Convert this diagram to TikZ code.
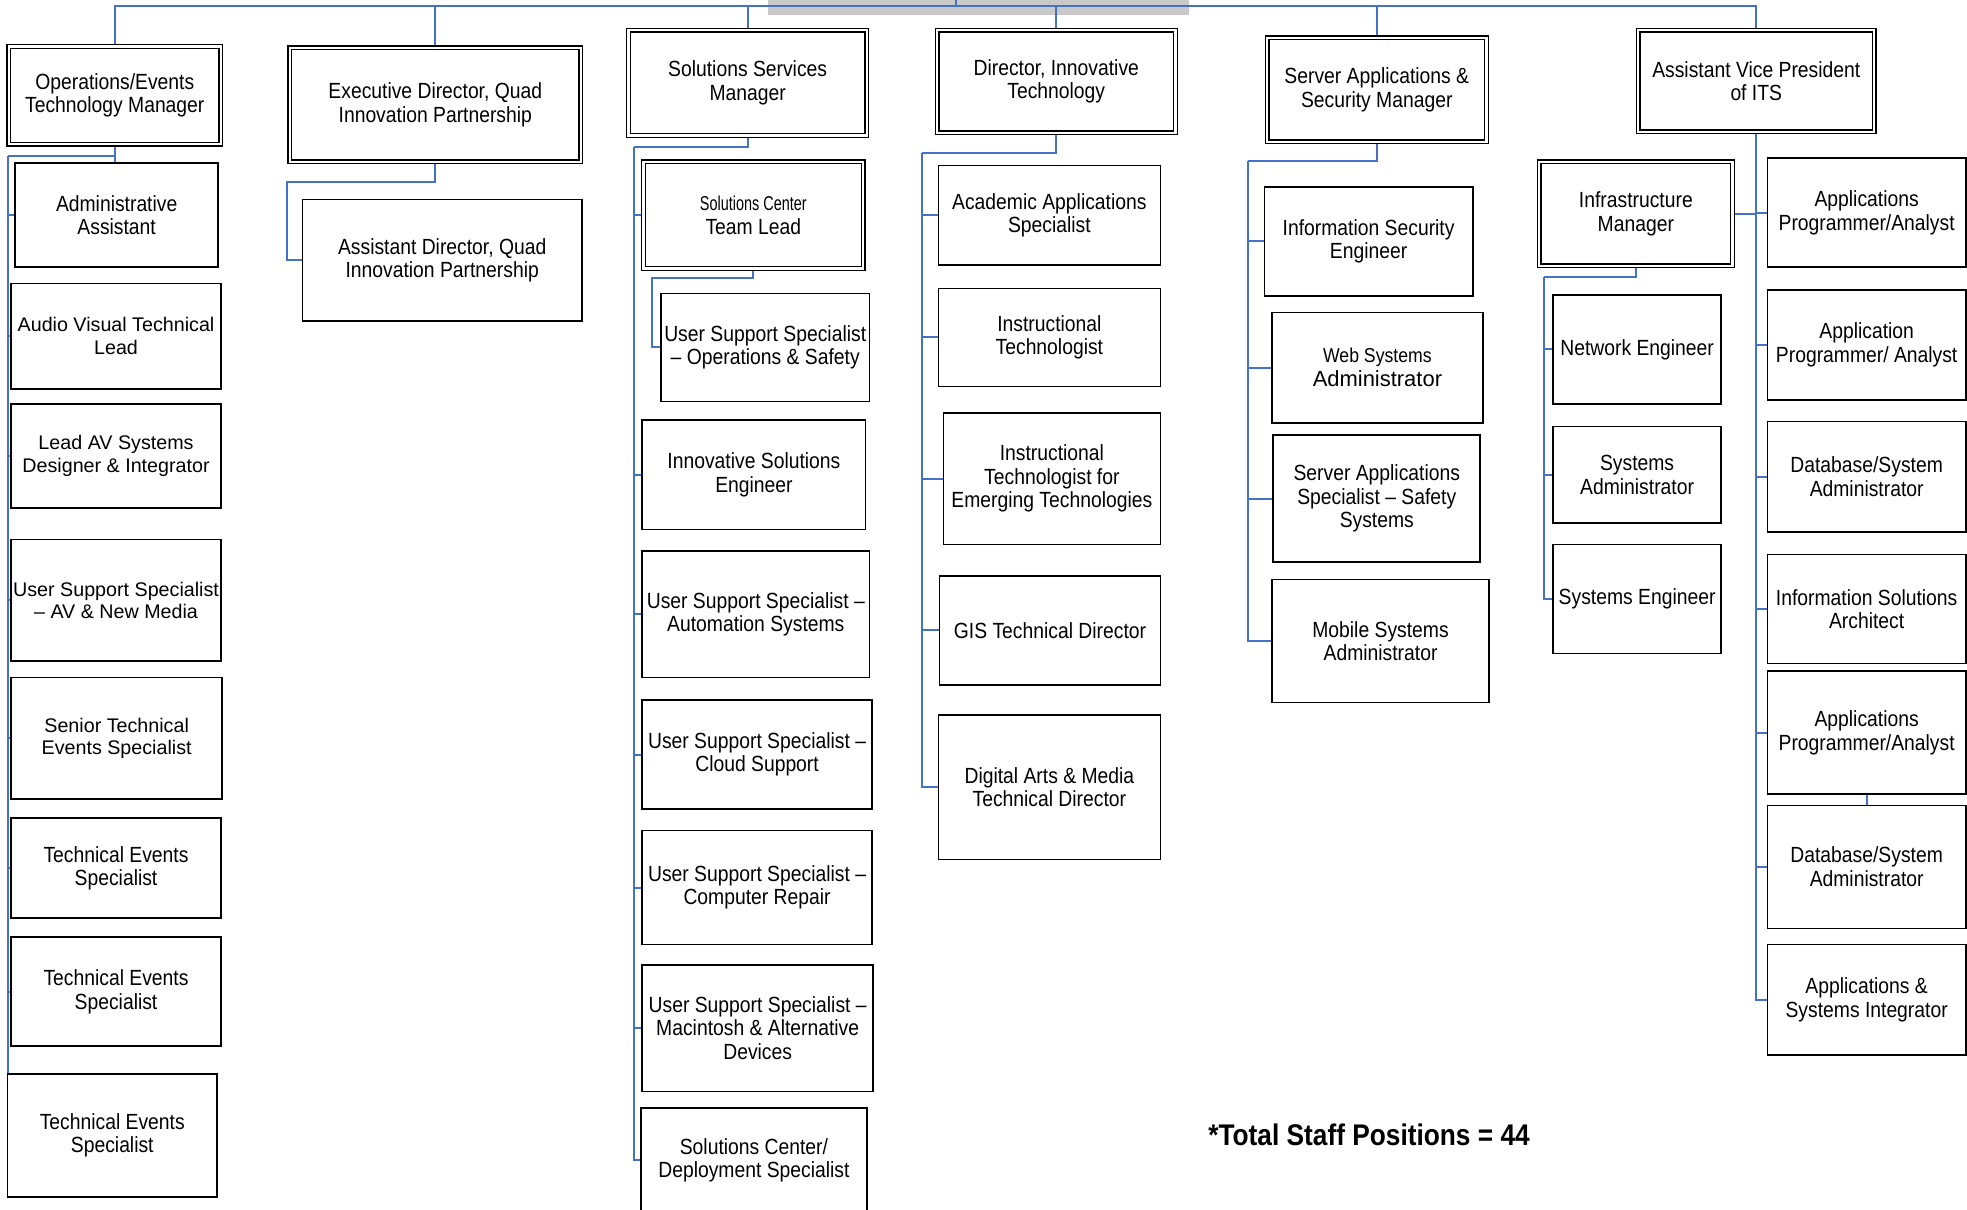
\documentclass[tikz,border=0pt]{standalone}
\usepackage{fontspec}
\setmainfont{Liberation Sans}
\newfontfamily\narrowfont[FakeStretch=0.88]{Liberation Sans}
\newfontfamily\condfont[FakeStretch=0.72]{Liberation Sans}
\usetikzlibrary{backgrounds}
\definecolor{its-blue}{HTML}{4472C4}
\definecolor{its-gray}{HTML}{C9C9C9}

\tikzset{
  box/.style={draw, line width=1.3pt, fill=white, align=center, inner sep=0.5pt,
    font=\narrowfont\fontsize{17.5}{18.7}\selectfont},
  widebox/.style={box, font=\fontsize{15.7}{18}\selectfont},
  headbox/.style={box, double, double distance=1.8pt, line width=1.1pt},
  conn/.style={draw=its-blue, line width=1.6pt},
}
\newcommand{\smalltxt}{\condfont\fontsize{16}{17}\selectfont}
\newcommand{\webtxt}{\fontsize{16}{17}\selectfont}

\begin{document}
\begin{tikzpicture}[x=1pt, y=-1pt, line join=miter]
    % frame
    \useasboundingbox (0,0) rectangle (1568,964);

    % managers
    \node[headbox, minimum width=169, minimum height=78] (ops) at (91.5,76) {Operations/Events\\Technology Manager};
    \node[headbox, minimum width=232, minimum height=91] (execdir) at (347,83.5) {Executive Director, Quad\\Innovation Partnership};
    \node[headbox, minimum width=190, minimum height=84] (solmgr) at (596,66) {Solutions Services\\Manager};
    \node[headbox, minimum width=190, minimum height=82] (dirinnov) at (842,65) {Director, Innovative\\Technology};
    \node[headbox, minimum width=175, minimum height=83] (servmgr) at (1097.5,71.5) {Server Applications \&\\Security Manager};
    \node[headbox, minimum width=188, minimum height=81] (avp) at (1400,64.5) {Assistant Vice President\\of ITS};

    % operations / events
    \node[box, minimum width=162, minimum height=83] (admin) at (93,171.5) {Administrative\\Assistant};
    \node[widebox, minimum width=167, minimum height=84] (avlead) at (92.5,268) {Audio Visual Technical\\Lead};
    \node[widebox, minimum width=167, minimum height=83] (leadav) at (92.5,363.5) {Lead AV Systems\\Designer \& Integrator};
    \node[widebox, minimum width=167, minimum height=97] (usavnm) at (92.5,478.5) {User Support Specialist\\– AV \& New Media};
    \node[widebox, minimum width=168, minimum height=97] (senior) at (93,588.5) {Senior Technical\\Events Specialist};
    \node[box, minimum width=167, minimum height=80] (techa) at (92.5,692) {Technical Events\\Specialist};
    \node[box, minimum width=167, minimum height=87] (techb) at (92.5,790.5) {Technical Events\\Specialist};
    \node[box, minimum width=167, minimum height=98] (techc) at (89.5,905) {Technical Events\\Specialist};

    % quad innovation
    \node[box, minimum width=223, minimum height=97] (asstdir) at (352.5,207.5) {Assistant Director, Quad\\Innovation Partnership};

    % solutions services
    \node[headbox, minimum width=175, minimum height=85] (teamlead) at (600.5,171.5) {{\smalltxt Solutions Center}\\Team Lead};
    \node[box, minimum width=166, minimum height=86] (usops) at (610,277) {User Support Specialist\\– Operations \& Safety};
    \node[box, minimum width=178, minimum height=87] (innov) at (601,378.5) {Innovative Solutions\\Engineer};
    \node[box, minimum width=181, minimum height=101] (usauto) at (602.5,489.5) {User Support Specialist –\\Automation Systems};
    \node[box, minimum width=183, minimum height=87] (uscloud) at (603.5,601.5) {User Support Specialist –\\Cloud Support};
    \node[box, minimum width=183, minimum height=91] (usrepair) at (603.5,707.5) {User Support Specialist –\\Computer Repair};
    \node[box, minimum width=184, minimum height=101] (usmac) at (604,819.5) {User Support Specialist –\\Macintosh \& Alternative\\Devices};
    \node[box, minimum width=180, minimum height=84] (deploy) at (601,925) {Solutions Center/\\Deployment Specialist};

    % innovative technology
    \node[box, minimum width=177, minimum height=79] (acad) at (836.5,171.5) {Academic Applications\\Specialist};
    \node[box, minimum width=177, minimum height=78] (instr) at (836.5,269) {Instructional\\Technologist};
    \node[box, minimum width=173, minimum height=105] (instrem) at (838.5,381.5) {Instructional\\Technologist for\\Emerging Technologies};
    \node[box, minimum width=176, minimum height=87] (gis) at (837,502.5) {GIS Technical Director};
    \node[box, minimum width=177, minimum height=115] (digital) at (836.5,627.5) {Digital Arts \& Media\\Technical Director};

    % server applications
    \node[box, minimum width=166, minimum height=87] (infosec) at (1091,192.5) {Information Security\\Engineer};
    \node[box, minimum width=168, minimum height=88] (websys) at (1098,293) {{\webtxt Web Systems}\\{\rmfamily Administrator}};
    \node[box, minimum width=165, minimum height=101] (servspec) at (1097.5,397.5) {Server Applications\\Specialist – Safety\\Systems};
    \node[box, minimum width=173, minimum height=98] (mobile) at (1100.5,511) {Mobile Systems\\Administrator};

    % infrastructure
    \node[headbox, minimum width=154, minimum height=83] (infra) at (1304,170.5) {Infrastructure\\Manager};
    \node[box, minimum width=134, minimum height=87] (network) at (1305,278.5) {Network Engineer};
    \node[box, minimum width=134, minimum height=77] (sysadmin) at (1305,378.5) {Systems\\Administrator};
    \node[box, minimum width=134, minimum height=87] (syseng) at (1305,477.5) {Systems Engineer};

    % applications
    \node[box, minimum width=158, minimum height=87] (appa) at (1488,169.5) {Applications\\Programmer/Analyst};
    \node[box, minimum width=158, minimum height=88] (appb) at (1488,275) {Application\\Programmer/ Analyst};
    \node[box, minimum width=158, minimum height=88] (dba) at (1488,380) {Database/System\\Administrator};
    \node[box, minimum width=158, minimum height=87] (infosol) at (1488,485.5) {Information Solutions\\Architect};
    \node[box, minimum width=158, minimum height=98] (appc) at (1488,584) {Applications\\Programmer/Analyst};
    \node[box, minimum width=158, minimum height=98] (dbb) at (1488,691) {Database/System\\Administrator};
    \node[box, minimum width=158, minimum height=88] (appsint) at (1488,797) {Applications \&\\Systems Integrator};

    % total
    \node[anchor=west, inner sep=0pt, font=\narrowfont\bfseries\fontsize{23.8}{26}\selectfont] (total) at (963,905) {*Total Staff Positions = 44};

    \begin{scope}[on background layer]
        % top bar
        \fill[its-gray] (612,0) rectangle (948,12);
        \coordinate (root) at (762,0);
        \coordinate (bus) at (762,5);
        \draw[conn] (root) -- (bus);
        \foreach \m in {ops,execdir,solmgr,dirinnov,servmgr,avp}
            \draw[conn] (bus) -| (\m.north);

        % operations / events
        \coordinate (opsspine) at (6,124);
        \draw[conn] (ops.south) |- (opsspine);
        \draw[conn] (ops.south) -- (ops.south |- admin.north);
        \foreach \c in {admin,avlead,leadav,usavnm,senior,techa,techb,techc}
            \draw[conn] (opsspine) |- (\c.west);

        % quad innovation
        \coordinate (execspine) at (229,145);
        \draw[conn] (execdir.south) |- (execspine) |- (asstdir.west);

        % solutions services
        \coordinate (solspine) at (505,117);
        \draw[conn] (solmgr.south) |- (solspine);
        \foreach \c in {teamlead,innov,usauto,uscloud,usrepair,usmac,deploy}
            \draw[conn] (solspine) |- (\c.west);
        \coordinate (leadspine) at (520,222);
        \draw[conn] (teamlead.south) |- (leadspine) |- (usops.west);

        % innovative technology
        \coordinate (dirspine) at (735,122);
        \draw[conn] (dirinnov.south) |- (dirspine);
        \foreach \c in {acad,instr,instrem,gis,digital}
            \draw[conn] (dirspine) |- (\c.west);

        % server applications
        \coordinate (servspine) at (995,128);
        \draw[conn] (servmgr.south) |- (servspine);
        \foreach \c in {infosec,websys,servspec,mobile}
            \draw[conn] (servspine) |- (\c.west);

        % assistant vice president
        \draw[conn] (avp.south) |- (infra.east);
        \foreach \c in {appa,appb,dba,infosol,appc,dbb,appsint}
            \draw[conn] (avp.south) |- (\c.west);
        \draw[conn] (appc.south) -- (dbb.north);

        % infrastructure
        \coordinate (infspine) at (1231,221);
        \draw[conn] (infra.south) |- (infspine);
        \foreach \c in {network,sysadmin,syseng}
            \draw[conn] (infspine) |- (\c.west);
    \end{scope}

\end{tikzpicture}
\end{document}
